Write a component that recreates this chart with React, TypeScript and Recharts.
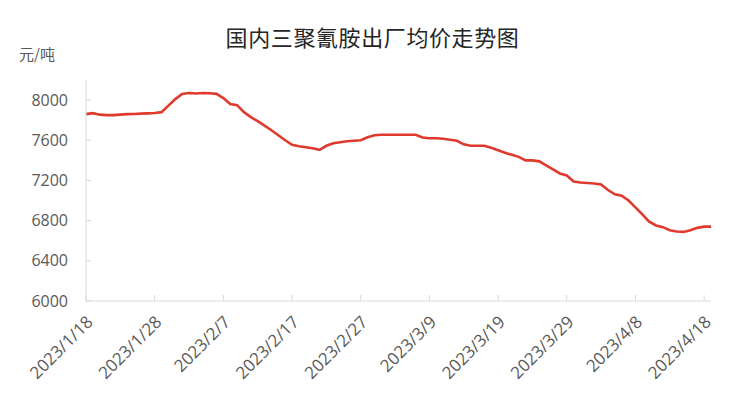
import { LineChart, Line, XAxis, YAxis } from 'recharts';

const jan = ['2023/1/18', '2023/1/19', '2023/1/20', '2023/1/21', '2023/1/22', '2023/1/23', '2023/1/24', '2023/1/25', '2023/1/26', '2023/1/27', '2023/1/28', '2023/1/29', '2023/1/30', '2023/1/31'];
const feb = ['2023/2/1', '2023/2/2', '2023/2/3', '2023/2/4', '2023/2/5', '2023/2/6', '2023/2/7', '2023/2/8', '2023/2/9', '2023/2/10', '2023/2/11', '2023/2/12', '2023/2/13', '2023/2/14', '2023/2/15', '2023/2/16', '2023/2/17', '2023/2/18', '2023/2/19', '2023/2/20', '2023/2/21', '2023/2/22', '2023/2/23', '2023/2/24', '2023/2/25', '2023/2/26', '2023/2/27', '2023/2/28'];
const mar = ['2023/3/1', '2023/3/2', '2023/3/3', '2023/3/4', '2023/3/5', '2023/3/6', '2023/3/7', '2023/3/8', '2023/3/9', '2023/3/10', '2023/3/11', '2023/3/12', '2023/3/13', '2023/3/14', '2023/3/15', '2023/3/16', '2023/3/17', '2023/3/18', '2023/3/19', '2023/3/20', '2023/3/21', '2023/3/22', '2023/3/23', '2023/3/24', '2023/3/25', '2023/3/26', '2023/3/27', '2023/3/28', '2023/3/29', '2023/3/30', '2023/3/31'];
const apr = ['2023/4/1', '2023/4/2', '2023/4/3', '2023/4/4', '2023/4/5', '2023/4/6', '2023/4/7', '2023/4/8', '2023/4/9', '2023/4/10', '2023/4/11', '2023/4/12', '2023/4/13', '2023/4/14', '2023/4/15', '2023/4/16', '2023/4/17', '2023/4/18', '2023/4/19'];
const dates = [...jan, ...feb, ...mar, ...apr];

// 元/吨
const prices = [
  7860, 7870, 7855, 7850, 7850, 7855, 7860, 7862, 7865, 7868,
  7872, 7880, 7945, 8010, 8060, 8070, 8065, 8070, 8068, 8062,
  8020, 7962, 7950, 7880, 7830, 7790, 7745, 7700, 7650, 7600,
  7555, 7540, 7530, 7520, 7505, 7545, 7570, 7580, 7590, 7595,
  7600, 7630, 7650, 7655, 7655, 7655, 7655, 7655, 7655, 7628,
  7620, 7620, 7615, 7605, 7595, 7560, 7545, 7545, 7545, 7525,
  7500, 7475, 7455, 7435, 7400, 7400, 7390, 7350, 7310, 7270,
  7250, 7190, 7180, 7175, 7170, 7160, 7105, 7062, 7048, 7000,
  6932, 6862, 6790, 6752, 6735, 6705, 6692, 6688, 6705, 6728,
  6740, 6740,
];

const yTicks = [6000, 6400, 6800, 7200, 7600, 8000];

const data = dates.map((date, i) => ({ date, price: prices[i] }));

const axisColor = '#d9d9d9';
const labelColor = '#595959';

function DateTick({ x, y, payload }: any) {
  const ax = x + 8;
  const ay = y + 28;
  return (
    <text
      x={ax}
      y={ay}
      transform={`rotate(-45 ${ax} ${ay})`}
      textAnchor="end"
      fontSize={17}
      fill={labelColor}
    >
      {payload.value}
    </text>
  );
}

export default function App() {
  return (
    <div style={{ position: 'absolute', left: 0, top: 0, width: 743, height: 400, background: '#fff', fontFamily: '"Open Sans", "Noto Sans CJK SC", sans-serif' }}>
      <div style={{ position: 'absolute', left: 0, width: 745, top: 22, textAlign: 'center', fontSize: 22, letterSpacing: 0.6, lineHeight: '28px', color: '#262626', fontFamily: '"Noto Sans CJK SC", sans-serif' }}>
        国内三聚氰胺出厂均价走势图
      </div>
      <div style={{ position: 'absolute', left: 19, top: 44, fontSize: 15, lineHeight: '20px', color: labelColor, fontFamily: '"Noto Sans CJK SC", sans-serif' }}>
        元/吨
      </div>
      <LineChart width={743} height={400} data={data} margin={{ top: 80, right: 32, bottom: 0, left: 0 }}>
        <XAxis
          dataKey="date"
          interval={9}
          stroke={axisColor}
          tickSize={-6}
          tickMargin={0}
          height={99}
          tick={<DateTick />}
        />
        <YAxis
          domain={[6000, 8200]}
          ticks={yTicks}
          width={86}
          stroke={axisColor}
          tickSize={-5}
          tickMargin={23}
          tick={{ fontSize: 16, fill: labelColor }}
        />
        <Line
          type="linear"
          dataKey="price"
          stroke="#e0392e"
          strokeWidth={2.6}
          dot={false}
          isAnimationActive={false}
        />
      </LineChart>
    </div>
  );
}
